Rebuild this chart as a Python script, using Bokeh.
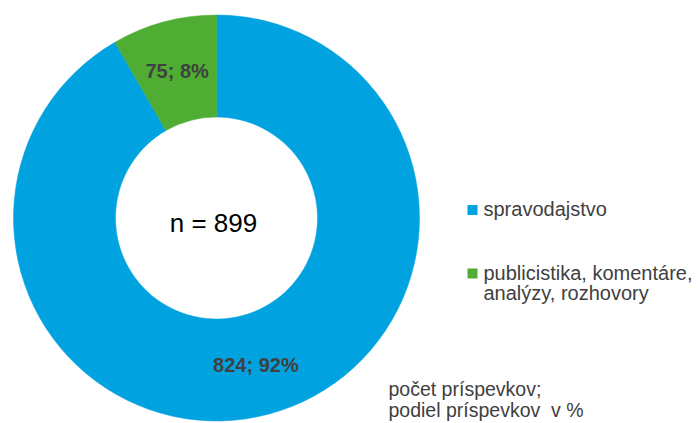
import math
from bokeh.plotting import figure
from bokeh.models import Range1d, ColumnDataSource
from bokeh.core.properties import value
from bokeh.embed import file_html
from bokeh.resources import INLINE

# ---- data ----
categories = ["spravodajstvo", "publicistika, komentáre,\nanalýzy, rozhovory"]
counts = [824, 75]
colors = ["#00A3E0", "#4EAD32"]
total_label = "n = 899"
note_lines = ["počet príspevkov;", "podiel príspevkov\u00a0\u00a0v %"]

W, H = 699, 423
FONT = "Liberation Sans"
TXT = "#404040"

def X(px):  # image px -> data
    return px

def Y(py):
    return H - py

p = figure(width=W, height=H, output_backend="svg", toolbar_location=None,
           x_range=Range1d(0, W), y_range=Range1d(0, H), min_border=0)
p.axis.visible = False
p.grid.visible = False
p.outline_line_color = None
p.background_fill_color = "white"

cx, cy = X(216), Y(217.5)
r_out, r_in = 203, 101

total = sum(counts)
starts, ends, mids, labels = [], [], [], []
cum = 0
for c in counts:
    a0 = math.pi / 2 - 2 * math.pi * cum / total
    cum += c
    a1 = math.pi / 2 - 2 * math.pi * cum / total
    starts.append(a0)
    ends.append(a1)
    mids.append((a0 + a1) / 2)
    labels.append(f"{c}; {round(100 * c / total)}%")

src = ColumnDataSource(dict(start=starts, end=ends, color=colors))
p.annular_wedge(x=cx, y=cy, inner_radius=r_in, outer_radius=r_out,
                start_angle="start", end_angle="end", direction="clock",
                fill_color="color", line_color="color", line_width=0.5,
                source=src)

r_mid = (r_in + r_out) / 2
lx = [cx + r_mid * math.cos(m) for m in mids]
ly = [cy + r_mid * math.sin(m) for m in mids]
p.text(x=lx, y=ly, text=labels, text_font=value(FONT), text_font_style="bold",
       text_font_size="20px", text_color=TXT, text_align="center",
       text_baseline="middle")

p.text(x=[X(213)], y=[Y(222)], text=[total_label], text_font=value(FONT),
       text_font_size="26px", text_color="black", text_align="center",
       text_baseline="middle")

# legend
leg_sq_x = [X(472), X(472)]
leg_sq_y = [Y(209.5), Y(273)]
p.scatter(x=leg_sq_x, y=leg_sq_y, marker="square", size=10,
          fill_color=colors, line_color=None)
leg_mid = [208, 272]
for cat, b in zip(categories, leg_mid):
    lines = cat.split("\n")
    for i, ln in enumerate(lines):
        p.text(x=[X(483)], y=[Y(b + i * 20)], text=[ln], text_font=value(FONT),
               text_font_size="20px", text_color=TXT, text_align="left",
               text_baseline="middle")

note_mid = [388, 409.5]
for ln, m in zip(note_lines, note_mid):
    p.text(x=[X(388)], y=[Y(m)], text=[ln], text_font=value(FONT),
           text_font_size="19.5px", text_color=TXT, text_align="left",
           text_baseline="middle")

open("out.html", "w").write(file_html(p, INLINE))
